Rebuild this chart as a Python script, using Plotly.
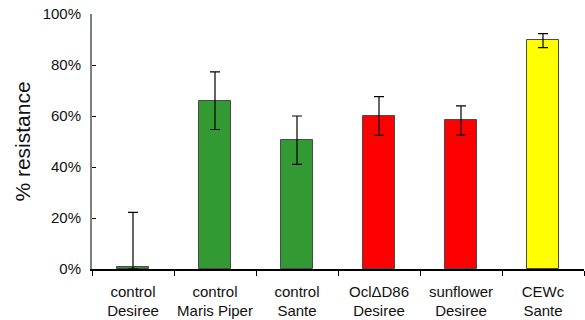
import plotly.graph_objects as go

categories = ["control<br>Desiree", "control<br>Maris Piper", "control<br>Sante",
              "OclΔD86<br>Desiree", "sunflower<br>Desiree", "CEWc<br>Sante"]
resistance = [0.008, 0.66, 0.505, 0.60, 0.583, 0.898]
err_plus = [0.214, 0.113, 0.095, 0.076, 0.057, 0.025]
err_minus = [0.008, 0.113, 0.095, 0.076, 0.057, 0.03]
bar_colors = ["#339933", "#339933", "#339933", "#FF0000", "#FF0000", "#FFFF00"]
y_ticks = [0, 0.2, 0.4, 0.6, 0.8, 1.0]
y_tick_labels = ["0%", "20%", "40%", "60%", "80%", "100%"]

fig = go.Figure(go.Bar(
    x=categories,
    y=resistance,
    width=0.39,
    marker=dict(color=bar_colors, line=dict(color="#4a4a4a", width=1)),
    error_y=dict(type="data", symmetric=False, array=err_plus, arrayminus=err_minus,
                 color="black", thickness=1.2, width=5),
))

fig.update_layout(
    width=585, height=320,
    margin=dict(l=92, r=1, t=14, b=51),
    plot_bgcolor="white", paper_bgcolor="white",
    font=dict(family="Liberation Sans, Arial, sans-serif", size=15, color="#111111"),
    showlegend=False,
    bargap=0,
)
fig.update_xaxes(
    showgrid=False, showline=True, linecolor="black", linewidth=1.5,
    ticks="outside", tickson="boundaries", ticklen=5, tickcolor="black", tickwidth=1,
    tickfont=dict(size=15), tickangle=0, ticklabelstandoff=8,
    automargin=False, range=[-0.5, 5.5],
)
fig.update_yaxes(
    range=[0, 1], tickvals=y_ticks, ticktext=y_tick_labels,
    showgrid=False, zeroline=False, showline=True, linecolor="#808080", linewidth=2,
    ticks="inside", ticklen=4, tickcolor="black", tickwidth=1,
    ticklabelstandoff=6, automargin=False,
    title=dict(text="% resistance", font=dict(size=21), standoff=6),
)

fig.write_html("out.html")
